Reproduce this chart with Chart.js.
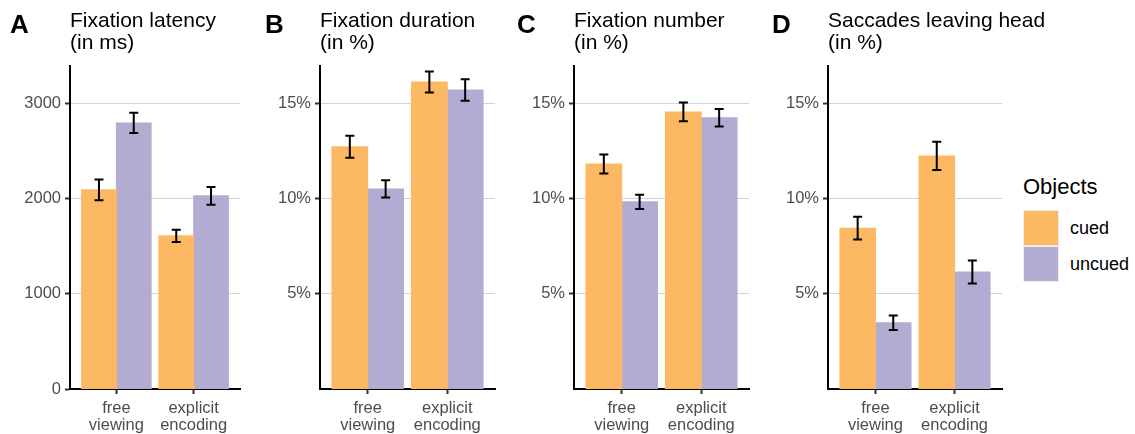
<!DOCTYPE html>
<html>
<head>
<meta charset="utf-8">
<script src="https://cdn.jsdelivr.net/npm/chart.js@4.4.1/dist/chart.umd.min.js"></script>
<style>
   body { margin: 0; background: #fff; font-family: "Liberation Sans", Arial, sans-serif; }
   #wrap { position: relative; width: 1135px; height: 434px; overflow: hidden; }
   canvas { position: absolute; top: 0; }
   .tag { position: absolute; top: 11px; font-size: 26px; line-height: 26px; font-weight: bold; color: #000; z-index: 2; }
   .ttl { position: absolute; top: 9px; font-size: 21px; line-height: 21.5px; color: #000; z-index: 2; white-space: nowrap; }
   .leg-title { position: absolute; left: 1023px; top: 176px; font-size: 22px; line-height: 22px; color: #000; }
   .leg-box { position: absolute; left: 1023px; width: 34px; height: 34px; border: 1px solid #EEEEEE; }
   .leg-lab { position: absolute; left: 1070px; font-size: 18px; line-height: 18px; color: #000; }
</style>
</head>
<body>
<div id="wrap">
   <div class="tag" style="left:10px">A</div>
   <div class="ttl" style="left:70px">Fixation latency<br>(in ms)</div>
   <div class="tag" style="left:265px">B</div>
   <div class="ttl" style="left:320px">Fixation duration<br>(in %)</div>
   <div class="tag" style="left:517px">C</div>
   <div class="ttl" style="left:574px">Fixation number<br>(in %)</div>
   <div class="tag" style="left:772px">D</div>
   <div class="ttl" style="left:828px">Saccades leaving head<br>(in %)</div>

   <canvas id="panelA" width="250" height="434" style="left:0px"></canvas>
   <canvas id="panelB" width="255" height="434" style="left:250px"></canvas>
   <canvas id="panelC" width="255" height="434" style="left:504px"></canvas>
   <canvas id="panelD" width="254" height="434" style="left:758px"></canvas>

   <div class="leg-title">Objects</div>
   <div class="leg-box" style="top:210px;background:#FDB863"></div>
   <div class="leg-lab" style="top:219px">cued</div>
   <div class="leg-box" style="top:246px;background:#B2ABD2"></div>
   <div class="leg-lab" style="top:255px">uncued</div>
</div>
<script>
// Condições e grupos
var conditions = ["free viewing", "explicit encoding"];
var groups = ["cued", "uncued"];
var groupColors = ["#FDB863", "#B2ABD2"];

// A: latência (ms)
var latencyCued = [2090, 1608];
var latencyUncued = [2793, 2028];
var latencyCuedErr = [110, 64];
var latencyUncuedErr = [106, 93];

// B: duração (%)
var durationCued = [12.71, 16.11];
var durationUncued = [10.5, 15.69];
var durationCuedErr = [0.58, 0.55];
var durationUncuedErr = [0.45, 0.56];

// C: número de fixações (%)
var numberCued = [11.81, 14.54];
var numberUncued = [9.82, 14.23];
var numberCuedErr = [0.5, 0.49];
var numberUncuedErr = [0.38, 0.46];

// D: sacadas saindo da cabeça (%)
var saccadeCued = [8.44, 12.23];
var saccadeUncued = [3.48, 6.14];
var saccadeCuedErr = [0.6, 0.74];
var saccadeUncuedErr = [0.38, 0.6];

// Ticks do eixo y
var latencyTicks = [0, 1000, 2000, 3000];
var percentTicks = [0, 5, 10, 15];
var latencyMax = 3390;
var percentMax = 16.95;

Chart.defaults.font.family = "'Liberation Sans', Arial, sans-serif";

// Plugin para desenhar as barras de erro
var errorBars = {
   id: "errorBars",
   afterDatasetsDraw: function (chart) {
      var ctx = chart.ctx;
      var yScale = chart.scales.y;
      ctx.save();
      ctx.strokeStyle = "#000";
      ctx.lineWidth = 2;
      chart.data.datasets.forEach(function (ds, di) {
         var meta = chart.getDatasetMeta(di);
         meta.data.forEach(function (bar, i) {
            var v = ds.data[i].y;
            var e = ds.errors[i];
            var top = yScale.getPixelForValue(v + e);
            var bot = yScale.getPixelForValue(v - e);
            ctx.beginPath();
            ctx.moveTo(bar.x, top);
            ctx.lineTo(bar.x, bot);
            ctx.moveTo(bar.x - 4.5, top);
            ctx.lineTo(bar.x + 4.5, top);
            ctx.moveTo(bar.x - 4.5, bot);
            ctx.lineTo(bar.x + 4.5, bot);
            ctx.stroke();
         });
      });
      ctx.restore();
   },
};

function toPoints(values) {
   return values.map(function (v, i) {
      return { x: i + 1, y: v };
   });
}

function makePanel(id, cued, uncued, cuedErr, uncuedErr, ticks, yMax, percent) {
   return new Chart(document.getElementById(id).getContext("2d"), {
      type: "bar",
      data: {
         datasets: [
            {
               label: groups[0],
               data: toPoints(cued),
               errors: cuedErr,
               backgroundColor: groupColors[0],
               borderWidth: 0,
               inflateAmount: 0.5,
            },
            {
               label: groups[1],
               data: toPoints(uncued),
               errors: uncuedErr,
               backgroundColor: groupColors[1],
               borderWidth: 0,
               inflateAmount: 0.5,
            },
         ],
      },
      options: {
         responsive: false,
         animation: false,
         devicePixelRatio: 1,
         categoryPercentage: 0.9,
         barPercentage: 1,
         layout: { padding: { top: 66, right: 10, left: 0, bottom: 0 } },
         scales: {
            x: {
               type: "linear",
               min: 0.4,
               max: 2.6,
               offset: false,
               afterBuildTicks: function (scale) {
                  scale.ticks = conditions.map(function (c, i) {
                     return { value: i + 1 };
                  });
               },
               afterFit: function (scale) {
                  scale.height = 45;
               },
               ticks: {
                  autoSkip: false,
                  maxRotation: 0,
                  padding: 6,
                  color: "#4D4D4D",
                  font: { size: 16.5, lineHeight: 1.03 },
                  callback: function (value) {
                     return conditions[value - 1].split(" ");
                  },
               },
               grid: {
                  offset: false,
                  drawOnChartArea: false,
                  tickLength: 5,
                  tickWidth: 2,
                  tickColor: "#333333",
               },
               border: { color: "#000", width: 2 },
            },
            y: {
               min: 0,
               max: yMax,
               afterBuildTicks: function (scale) {
                  scale.ticks = ticks.map(function (t) {
                     return { value: t };
                  });
               },
               afterFit: function (scale) {
                  scale.width = 70;
               },
               ticks: {
                  padding: 4,
                  color: "#4D4D4D",
                  font: { size: 16.5 },
                  callback: function (value) {
                     if (!percent) return String(value);
                     return value === 0 ? "" : value + "%";
                  },
               },
               grid: {
                  color: "#D3D3D3",
                  lineWidth: 1,
                  tickLength: 5,
                  tickWidth: 2,
                  tickColor: function (c) {
                     return percent && c.tick && c.tick.value === 0 ? "rgba(0,0,0,0)" : "#333333";
                  },
               },
               border: { color: "#000", width: 2 },
            },
         },
         plugins: {
            legend: { display: false },
            tooltip: { enabled: false },
         },
      },
      plugins: [errorBars],
   });
}

makePanel("panelA", latencyCued, latencyUncued, latencyCuedErr, latencyUncuedErr, latencyTicks, latencyMax, false);
makePanel("panelB", durationCued, durationUncued, durationCuedErr, durationUncuedErr, percentTicks, percentMax, true);
makePanel("panelC", numberCued, numberUncued, numberCuedErr, numberUncuedErr, percentTicks, percentMax, true);
makePanel("panelD", saccadeCued, saccadeUncued, saccadeCuedErr, saccadeUncuedErr, percentTicks, percentMax, true);
</script>
</body>
</html>
